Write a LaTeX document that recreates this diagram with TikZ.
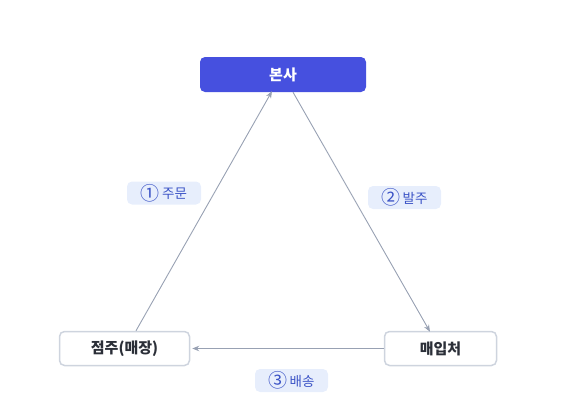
\documentclass[tikz,border=0pt]{standalone}
\usepackage{fontspec}
\setmainfont{Noto Sans CJK KR}
\usetikzlibrary{arrows.meta,calc}
\definecolor{hqblue}{HTML}{4650DF}
\definecolor{boxgray}{HTML}{CED4DE}
\definecolor{arrgray}{HTML}{98A1B3}
\definecolor{lblfill}{HTML}{E7EEFC}
\definecolor{lbltext}{HTML}{3B53C6}
\definecolor{darktext}{HTML}{2B2F38}
\newcommand\cnum[1]{\raisebox{-1.6pt}{\fontsize{19}{16}\selectfont #1}}
\tikzset{
  hqbox/.style={rectangle, rounded corners=5pt, fill=hqblue, text=white, font=\fontsize{15}{18}\selectfont\bfseries, minimum height=35pt, inner sep=0pt},
  partybox/.style={rectangle, rounded corners=5pt, draw=boxgray, line width=1.5pt, fill=white, text=darktext, font=\fontsize{15}{18}\selectfont\bfseries, minimum height=34pt, inner sep=0pt},
  lblbox/.style={rectangle, rounded corners=5pt, fill=lblfill, text=lbltext, font=\fontsize{13.5}{16}\selectfont, minimum height=23pt, inner sep=0pt},
  flow/.style={draw=arrgray, line width=0.9pt, -{Stealth[length=7pt,width=5.5pt]}}
}
\begin{document}
\begin{tikzpicture}[x=1pt,y=-1pt]
\useasboundingbox (0,0) rectangle (566,410);
\node[hqbox, minimum width=166pt] (hq) at (283,74.5) {본사};
\node[partybox, minimum width=130pt] (store) at (124.5,348.5) {점주(매장)};
\node[partybox, minimum width=112pt] (supp) at (440.5,348.5) {매입처};
\node[lblbox, minimum width=74pt] (l1) at (164,193) {\cnum{①}\,주문};
\node[lblbox, minimum width=73pt] (l2) at (404.5,197.5) {\cnum{②}\,발주};
\node[lblbox, minimum width=73pt] (l3) at (291.5,380.5) {\cnum{③}\,배송};
\draw[flow] ([xshift=11.5pt]store.north) -- ([xshift=-11pt,yshift=1pt]hq.south);
\draw[flow] ([xshift=10pt]hq.south) -- ([xshift=-10.5pt,yshift=-1pt]supp.north);
\draw[flow] (supp.west) -- ([xshift=2pt]store.east);
\end{tikzpicture}
\end{document}
